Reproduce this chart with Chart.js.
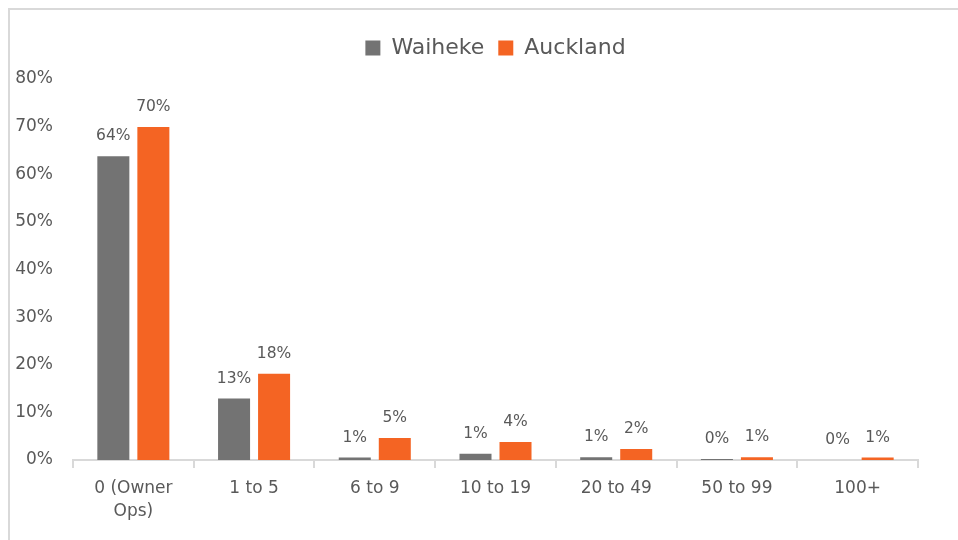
<!DOCTYPE html>
<html>
<head>
<meta charset="utf-8">
<script src="https://cdn.jsdelivr.net/npm/chart.js@4.4.1/dist/chart.umd.min.js"></script>
<style>
  html, body { margin: 0; padding: 0; background: #ffffff; overflow: hidden; }
  #frame { position: absolute; left: 8px; top: 8px; width: 980px; height: 560px; border: 2px solid #d9d9d9; box-sizing: border-box; }
  #wrap { position: absolute; left: 0; top: 0; width: 958px; height: 540px; }
</style>
</head>
<body>
<div id="frame"></div>
<div id="wrap"><canvas id="c" width="958" height="540"></canvas></div>
<script>
const categories = [["0 (Owner", "Ops)"], "1 to 5", "6 to 9", "10 to 19", "20 to 49", "50 to 99", "100+"];
const waihekeValues = [63.8, 12.9, 0.5, 1.3, 0.6, 0.2, 0.0];
const aucklandValues = [69.9, 18.1, 4.6, 3.8, 2.3, 0.6, 0.5];
const waihekeLabels = ["64%", "13%", "1%", "1%", "1%", "0%", "0%"];
const aucklandLabels = ["70%", "18%", "5%", "4%", "2%", "1%", "1%"];
const yTicks = [0, 10, 20, 30, 40, 50, 60, 70, 80];

const FONT = "'DejaVu Sans', sans-serif";
const TEXT = "#595959";

const dataLabelPlugin = {
  id: 'dataLabels',
  afterDatasetsDraw(chart) {
    const ctx = chart.ctx;
    const labelSets = [waihekeLabels, aucklandLabels];
    ctx.save();
    ctx.font = "15.5px " + FONT;
    ctx.fillStyle = TEXT;
    ctx.textAlign = 'center';
    ctx.textBaseline = 'alphabetic';
    chart.data.datasets.forEach((ds, di) => {
      const meta = chart.getDatasetMeta(di);
      meta.data.forEach((bar, i) => {
        ctx.fillText(labelSets[di][i], bar.x, bar.y - 16);
      });
    });
    ctx.restore();
  }
};

const legendSpacer = {
  id: 'legendSpacer',
  beforeInit(chart) {
    const origFit = chart.legend.fit;
    chart.legend.fit = function () {
      origFit.bind(chart.legend)();
      this.height += 10;
    };
  }
};

new Chart(document.getElementById('c'), {
  type: 'bar',
  data: {
    labels: categories,
    datasets: [
      { label: 'Waiheke', data: waihekeValues, backgroundColor: '#737373', borderWidth: 0,
        categoryPercentage: 0.663, barPercentage: 0.8 },
      { label: 'Auckland', data: aucklandValues, backgroundColor: '#F46423', borderWidth: 0,
        categoryPercentage: 0.663, barPercentage: 0.8 }
    ]
  },
  options: {
    responsive: false,
    animation: false,
    devicePixelRatio: 1,
    layout: { padding: { left: 8, right: 40, top: 23, bottom: 0 } },
    plugins: {
      legend: {
        position: 'top',
        align: 'center',
        fullSize: false,
        labels: {
          font: { size: 22, family: FONT },
          color: TEXT,
          boxWidth: 15,
          boxHeight: 15,
          padding: 14
        }
      },
      tooltip: { enabled: false }
    },
    scales: {
      x: {
        offset: true,
        afterFit(scale) { scale.height = 80; },
        grid: { display: true, drawOnChartArea: false, drawTicks: true, tickLength: 8, color: '#d9d9d9', lineWidth: 2, offset: true },
        border: { display: true, color: '#d9d9d9', width: 2 },
        ticks: { font: { size: 17, family: FONT, lineHeight: 1.35 }, color: TEXT, padding: 9, maxRotation: 0, autoSkip: false }
      },
      y: {
        min: 0,
        max: 80,
        afterBuildTicks(scale) { scale.ticks = yTicks.map(v => ({ value: v })); },
        afterFit(scale) { scale.width = 65; },
        grid: { display: false, drawTicks: false },
        border: { display: false },
        ticks: { font: { size: 17, family: FONT }, color: TEXT, padding: 20, callback: v => v + '%' }
      }
    }
  },
  plugins: [dataLabelPlugin, legendSpacer]
});
</script>
</body>
</html>
